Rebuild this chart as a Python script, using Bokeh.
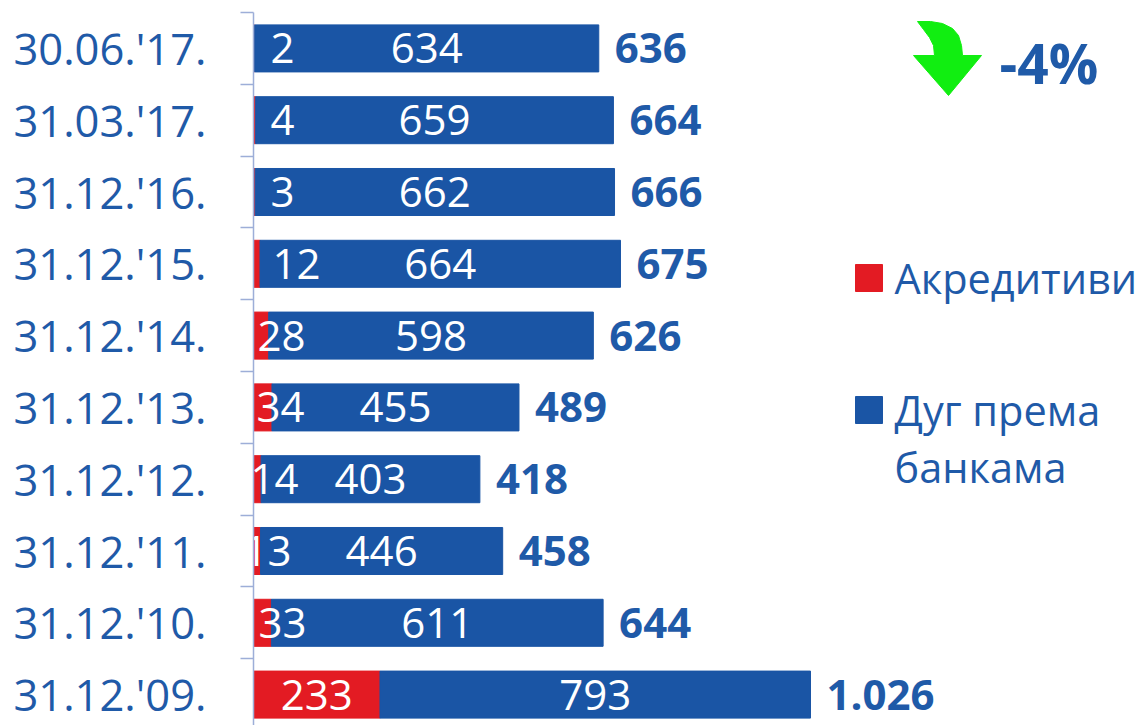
from bokeh.plotting import figure
from bokeh.models import Range1d, FixedTicker, ColumnDataSource
from bokeh.core.properties import value
from bokeh.embed import file_html
from bokeh.resources import INLINE

# ---- data ----
dates = ["31.12.'09.", "31.12.'10.", "31.12.'11.", "31.12.'12.", "31.12.'13.",
         "31.12.'14.", "31.12.'15.", "31.12.'16.", "31.03.'17.", "30.06.'17."]
akreditivi = [233, 33, 13, 14, 34, 28, 12, 3, 4, 2]
dug = [793, 611, 446, 403, 455, 598, 664, 662, 659, 634]
totals = [1026, 644, 458, 418, 489, 626, 675, 666, 664, 636]
series_names = ["Акредитиви", "Дуг према\nбанкама"]
change_label = "-4%"

# ---- style ----
RED = "#E31B23"
BLUE = "#1A55A5"
TXT = "#1F5AA8"
AXIS = "#9DAED8"
FONT = "Open Sans"
red_label_dx = [None, 5, -10, -3, 3, 4, 19, 17, 17, 17]  # px offsets for small red labels

W, H = 1140, 725
FL, FT = 253, 12         # frame left / top inside canvas
SX = 557 / 1026          # px per x unit
SY = 71.8                # px per category
Y_TOP = 9.5
FW = W - FL
FH = H - FT
x_end = FW / SX
y_bottom = Y_TOP - FH / SY

def dx(px):  # picture x -> data x
    return (px - FL) / SX

def dy(py):  # picture y -> data y
    return Y_TOP - (py - FT) / SY

p = figure(width=W, height=H, output_backend="svg", toolbar_location=None,
           x_range=Range1d(0, x_end), y_range=Range1d(y_bottom, Y_TOP),
           x_axis_location=None, min_border_left=FL, min_border_top=FT,
           min_border_bottom=0, min_border_right=0)
p.outline_line_color = None
p.grid.visible = False
p.background_fill_color = "white"
p.border_fill_color = "white"

idx = list(range(len(dates)))
ends = [a + d for a, d in zip(akreditivi, dug)]
src = ColumnDataSource(dict(y=idx, akr=akreditivi, dug=dug, end=ends,
                            mid_blue=[a + d / 2 for a, d in zip(akreditivi, dug)],
                            akr_txt=[str(v) for v in akreditivi],
                            dug_txt=[str(v) for v in dug],
                            tot_txt=[f"{v:,}".replace(",", ".") for v in totals]))

BH = 0.655
p.hbar(y="y", left=0, right="akr", height=BH, color=RED, source=src)
p.hbar(y="y", left="akr", right="end", height=BH, color=BLUE, source=src)

# blue labels
p.text(x="mid_blue", y="y", text="dug_txt", source=src, text_color="white",
       text_font=value(FONT), text_font_size="42px", text_align="center",
       text_baseline="middle")
# red labels
for i in idx:
    if red_label_dx[i] is None:
        p.text(x=[akreditivi[i] / 2], y=[i], text=[str(akreditivi[i])], text_color="white",
               text_font=value(FONT), text_font_size="42px", text_align="center",
               text_baseline="middle")
    else:
        p.text(x=[0], y=[i], text=[str(akreditivi[i])], x_offset=red_label_dx[i],
               text_color="white", text_font=value(FONT), text_font_size="42px",
               text_align="left", text_baseline="middle")
# totals
p.text(x="end", y="y", text="tot_txt", source=src, x_offset=16, text_color=TXT,
       text_font=value(FONT), text_font_size="42px", text_font_style="bold",
       text_align="left", text_baseline="middle")

# y axis with boundary ticks
ax = p.yaxis[0]
ax.ticker = FixedTicker(ticks=idx, minor_ticks=[i + 0.5 for i in range(-1, len(dates))])
ax.major_label_overrides = {i: d for i, d in enumerate(dates)}
ax.major_label_text_font = FONT
ax.major_label_text_font_size = "43.5px"
ax.major_label_text_color = TXT
ax.major_tick_line_color = None
ax.major_tick_out = 0
ax.major_tick_in = 0
ax.minor_tick_line_color = AXIS
ax.minor_tick_line_width = 1.5
ax.minor_tick_out = 13
ax.minor_tick_in = 0
ax.axis_line_color = AXIS
ax.axis_line_width = 1.5
ax.major_label_standoff = 34

# legend (manual)
p.rect(x=[dx(868.5)], y=[dy(277.5)], width=27 / SX, height=27 / SY, color=RED)
p.rect(x=[dx(868.5)], y=[dy(409.5)], width=27 / SX, height=27 / SY, color=BLUE)
p.text(x=[dx(894)], y=[dy(277.5)], text=[series_names[0]], text_color=TXT,
       text_font=value(FONT), text_font_size="41.5px", text_baseline="middle")
lines = series_names[1].split("\n")
for k, ln in enumerate(lines):
    p.text(x=[dx(894)], y=[dy(409.5 + 57 * k)], text=[ln], text_color=TXT,
           text_font=value(FONT), text_font_size="41.5px", text_baseline="middle")

# green curved arrow
arrow_px = [(917, 21), (930, 21), (942, 23), (952, 28), (958, 35), (961, 45), (962, 55),
            (981, 55), (948, 95), (913, 55), (934, 55), (933, 45), (929, 37), (923, 29)]
p.patch(x=[dx(a) for a, b in arrow_px], y=[dy(b) for a, b in arrow_px],
        fill_color="#11EE11", line_color="#11EE11")
p.text(x=[dx(999)], y=[dy(61.5)], text=[change_label], text_color=TXT,
       text_font=value(FONT), text_font_size="55px", text_font_style="bold",
       text_baseline="middle")

open("out.html", "w").write(file_html(p, INLINE))
